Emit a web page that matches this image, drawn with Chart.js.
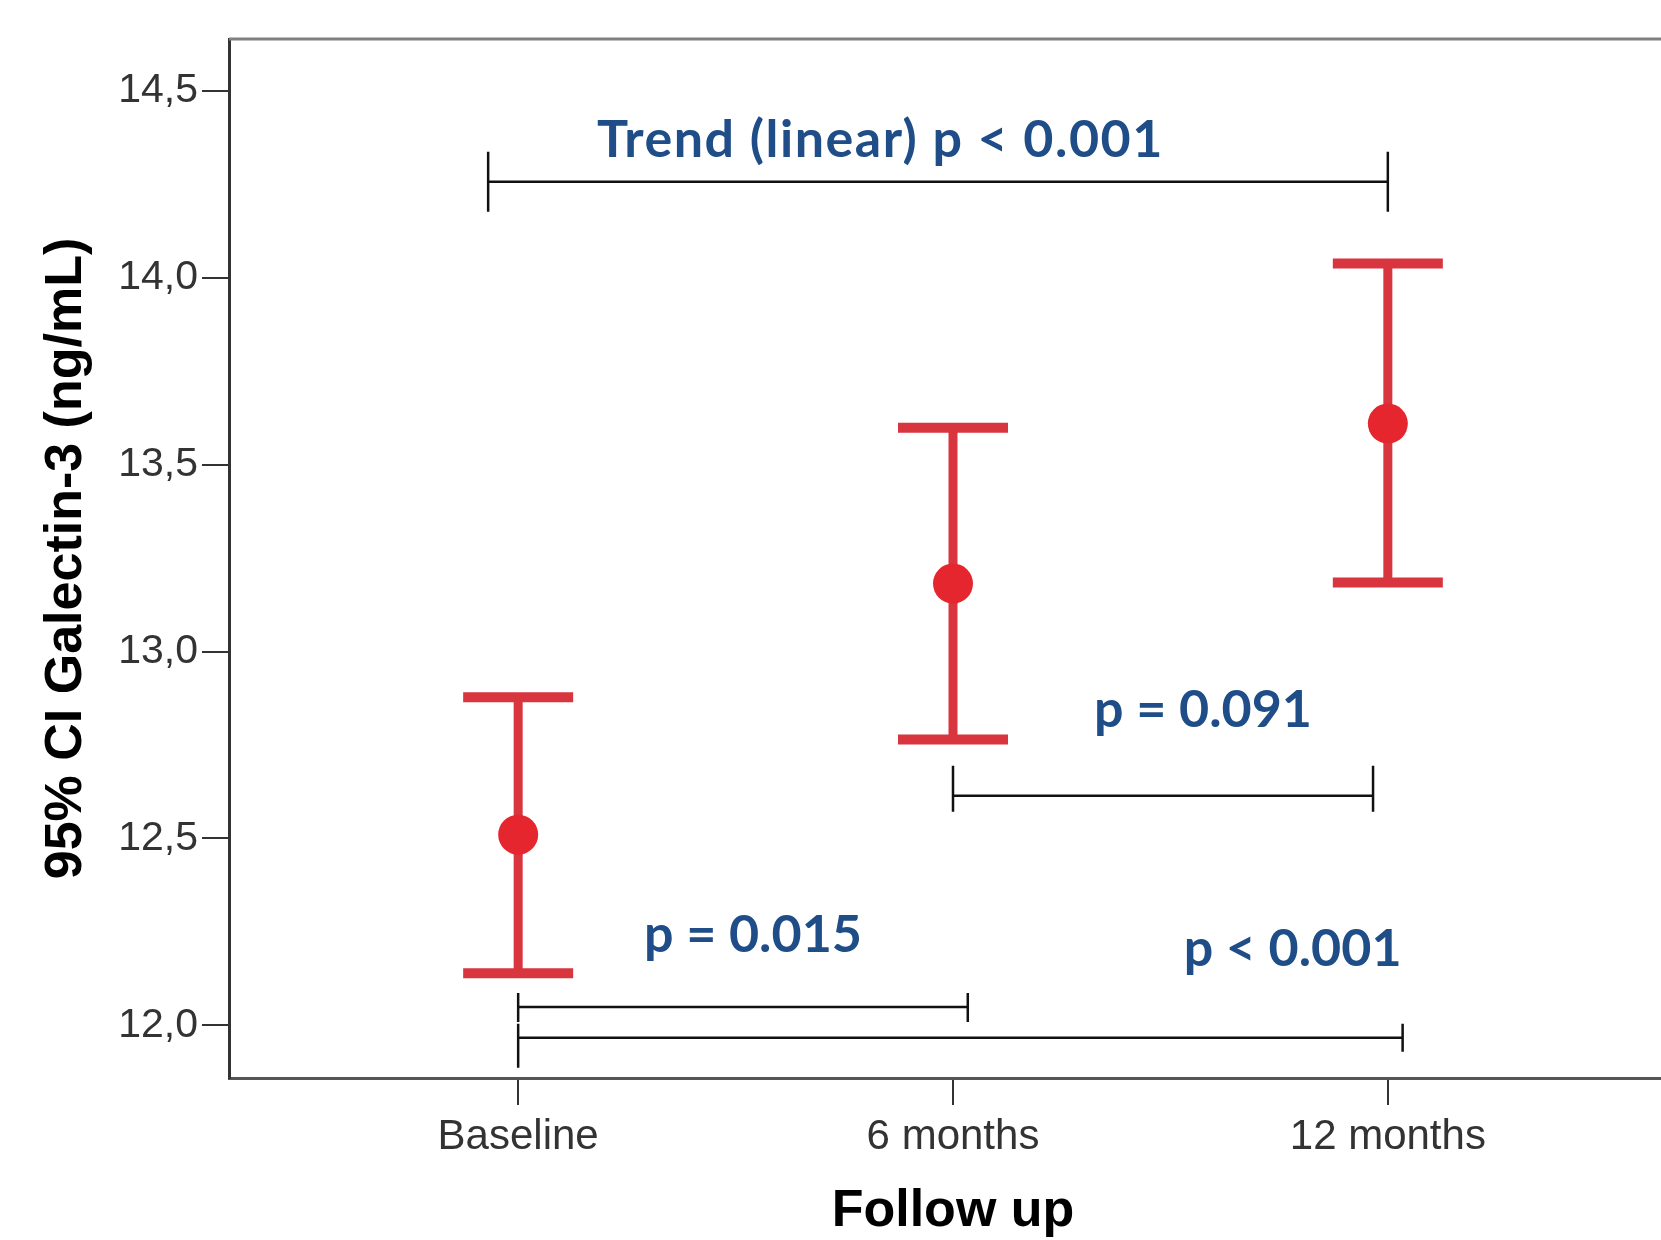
<!DOCTYPE html>
<html><head><meta charset="utf-8">
<script src="https://cdn.jsdelivr.net/npm/chart.js@4"></script>
<style>
html,body{margin:0;padding:0;background:#fff;overflow:hidden}
#wrap{width:1661px;height:1240px;overflow:hidden;position:relative;background:#fff}
canvas{display:block}
</style></head><body>
<div id="wrap"><canvas id="c" width="1700" height="1240"></canvas></div>
<script>
// ---- data ----
const categories = ['Baseline', '6 months', '12 months'];
const means   = [12.51, 13.182, 13.61];
const ciLower = [12.139, 12.765, 13.185];
const ciUpper = [12.878, 13.599, 14.038];
const yTicks  = [12.0, 12.5, 13.0, 13.5, 14.0, 14.5];
const pLabels = ['Trend (linear) p < 0.001', 'p = 0.091', 'p = 0.015', 'p < 0.001'];
// bracket annotations in data units: from x, to x, at y
const bracketFrom = [-0.069, 1.0, 0.0, 0.0];
const bracketTo   = [2.0, 1.966, 1.034, 2.034];
const bracketY    = [14.257, 12.614, 12.049, 11.967];
// label anchors (center x, baseline y) in data units
const labelX = [0.833, 1.575, 0.540, 1.781];
const labelY = [14.324, 12.798, 12.196, 12.159];

const RED_BAR = '#d8353f';
const RED_DOT = '#e5262e';
const BLUE = '#1f4d87';
const SANS = "'Liberation Sans', Arial, sans-serif";

// pixel styles for bracket ticks [leftUp, leftDown, rightUp, rightDown]
const bracketTickStyle = [
  [30, 30, 30, 30],
  [30, 16, 30, 16],
  [14, 15, 14, 15],
  [14, 30, 14, 14]
];
const labelSpacing = ['1.5px', '0px', '0px', '0px'];

const errorBarPlugin = {
  id: 'errbars',
  beforeDatasetsDraw(chart) {
    const {ctx, scales: {x, y}} = chart;
    ctx.save();
    ctx.strokeStyle = RED_BAR;
    ctx.lineCap = 'butt';
    means.forEach((m, i) => {
      const px = x.getPixelForValue(i);
      const pu = y.getPixelForValue(ciUpper[i]);
      const pl = y.getPixelForValue(ciLower[i]);
      ctx.lineWidth = 9;
      ctx.beginPath(); ctx.moveTo(px, pu); ctx.lineTo(px, pl); ctx.stroke();
      ctx.lineWidth = 10;
      ctx.beginPath();
      ctx.moveTo(px - 55, pu); ctx.lineTo(px + 55, pu);
      ctx.moveTo(px - 55, pl); ctx.lineTo(px + 55, pl);
      ctx.stroke();
    });
    ctx.restore();
  }
};

const annotationPlugin = {
  id: 'annots',
  afterDraw(chart) {
    const {ctx, chartArea, scales: {x, y}} = chart;
    ctx.save();
    // frame top / right
    ctx.strokeStyle = '#808080';
    ctx.lineWidth = 3;
    ctx.beginPath();
    ctx.moveTo(chartArea.left, chartArea.top);
    ctx.lineTo(chartArea.right, chartArea.top);
    ctx.lineTo(chartArea.right, chartArea.bottom);
    ctx.stroke();
    // brackets
    ctx.strokeStyle = '#111';
    ctx.lineWidth = 2.5;
    bracketFrom.forEach((fx, i) => {
      const x0 = x.getPixelForValue(fx);
      const x1 = x.getPixelForValue(bracketTo[i]);
      const py = y.getPixelForValue(bracketY[i]);
      const t = bracketTickStyle[i];
      ctx.beginPath();
      ctx.moveTo(x0, py); ctx.lineTo(x1, py);
      ctx.moveTo(x0, py - t[0]); ctx.lineTo(x0, py + t[1]);
      ctx.moveTo(x1, py - t[2]); ctx.lineTo(x1, py + t[3]);
      ctx.stroke();
    });
    // labels
    ctx.fillStyle = BLUE;
    ctx.font = "bold 52px Lato, 'Open Sans', sans-serif";
    ctx.textAlign = 'center';
    ctx.textBaseline = 'alphabetic';
    pLabels.forEach((txt, i) => {
      if ('letterSpacing' in ctx) ctx.letterSpacing = labelSpacing[i];
      ctx.fillText(txt, x.getPixelForValue(labelX[i]), y.getPixelForValue(labelY[i]));
    });
    ctx.restore();
  }
};

new Chart(document.getElementById('c').getContext('2d'), {
  type: 'scatter',
  data: {
    datasets: [{
      data: means.map((m, i) => ({x: i, y: m})),
      pointRadius: 20,
      pointHoverRadius: 20,
      backgroundColor: RED_DOT,
      borderColor: RED_DOT,
      borderWidth: 0
    }]
  },
  options: {
    responsive: false,
    animation: false,
    devicePixelRatio: 1,
    events: [],
    layout: {padding: {top: 39, right: 23, left: 0, bottom: 0}},
    plugins: {legend: {display: false}, tooltip: {enabled: false}},
    scales: {
      x: {
        type: 'linear',
        min: -0.665,
        max: 2.665,
        afterBuildTicks: s => { s.ticks = categories.map((c, i) => ({value: i})); },
        afterFit: s => { s.height = 162; },
        ticks: {
          callback: v => categories[v],
          font: {family: SANS, size: 42},
          color: '#333',
          padding: 7,
          autoSkip: false,
          maxRotation: 0
        },
        grid: {drawOnChartArea: false, drawTicks: true, tickLength: 27, lineWidth: 2, color: '#333'},
        border: {display: true, color: '#555', width: 3},
        title: {
          display: true, text: 'Follow up', color: '#000',
          font: {family: SANS, size: 52, weight: 'bold', lineHeight: 1},
          padding: {top: 0, bottom: 2}
        }
      },
      y: {
        min: 11.859,
        max: 14.639,
        afterBuildTicks: s => { s.ticks = yTicks.map(v => ({value: v})); },
        afterFit: s => { s.width = 229; },
        ticks: {
          callback: v => Number(v).toFixed(1).replace('.', ','),
          font: {family: SANS, size: 41},
          color: '#333',
          padding: 4
        },
        grid: {drawOnChartArea: false, drawTicks: true, tickLength: 27, lineWidth: 2, color: '#333'},
        border: {display: true, color: '#333', width: 3},
        title: {
          display: true, text: '95% CI Galectin-3 (ng/mL)', color: '#000',
          font: {family: SANS, size: 52, weight: 'bold'},
          padding: {top: 35, bottom: 0}
        }
      }
    }
  },
  plugins: [errorBarPlugin, annotationPlugin]
});
</script>
</body></html>
